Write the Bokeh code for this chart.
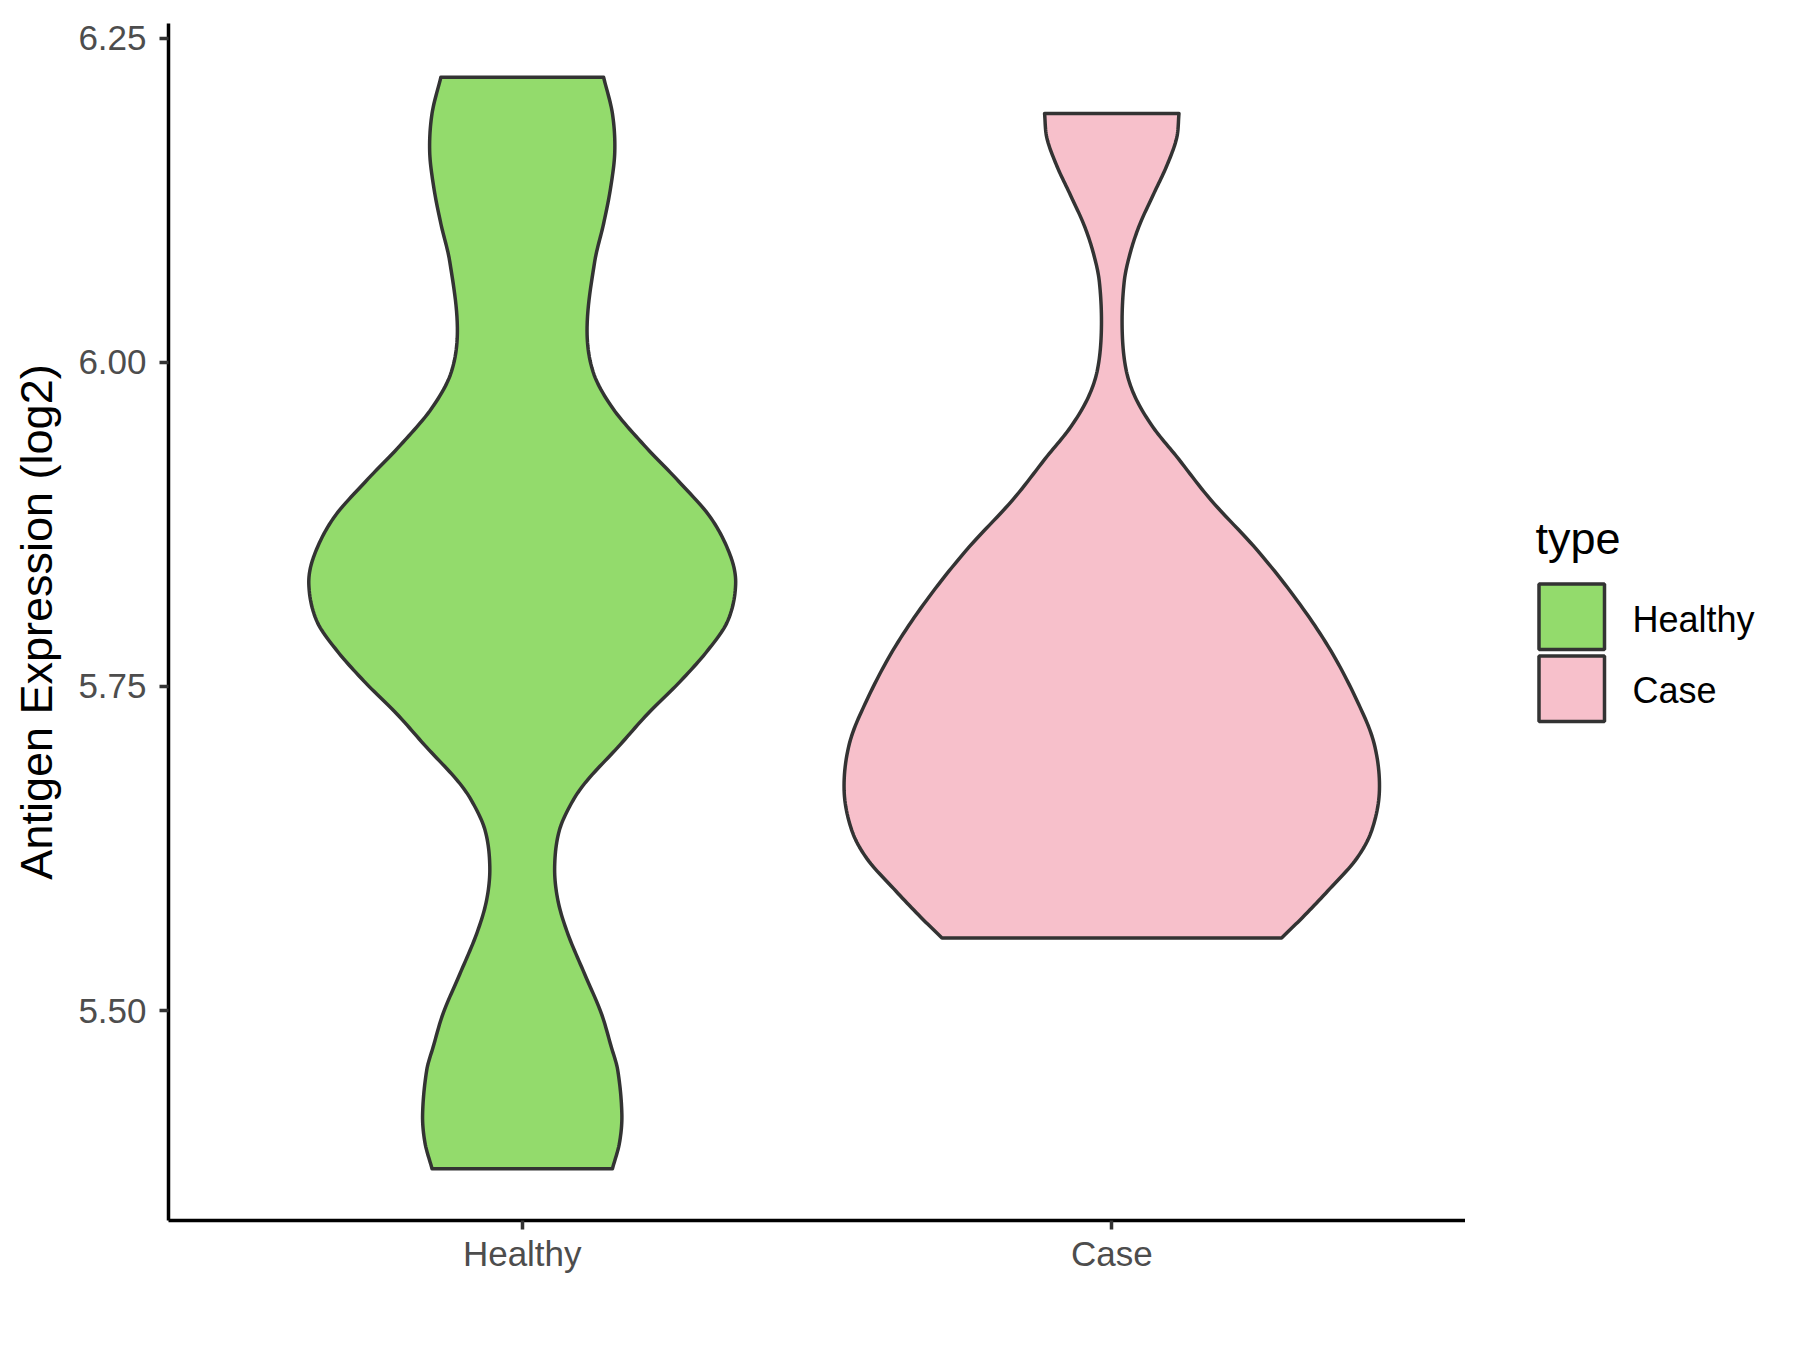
import numpy as np
from bokeh.plotting import figure
from bokeh.layouts import row
from bokeh.models import Range1d, FixedTicker
from bokeh.core.properties import value
from bokeh.embed import file_html
from bokeh.resources import INLINE

# ---- data ----
categories = ["Healthy", "Case"]
tick_values = [5.50, 5.75, 6.00, 6.25]
tick_labels = ["5.50", "5.75", "6.00", "6.25"]
legend_title = "type"

# violin profile: expression values and half-width (density scaled, in category units)
healthy_y = [5.378, 5.398, 5.420, 5.454, 5.472, 5.498, 5.528, 5.559, 5.585, 5.611,
             5.639, 5.662, 5.678, 5.703, 5.729, 5.752, 5.778, 5.801, 5.829, 5.851,
             5.880, 5.908, 5.936, 5.965, 5.993, 6.027, 6.078, 6.107, 6.135, 6.163,
             6.192, 6.220]
healthy_hw = [0.153, 0.165, 0.169, 0.162, 0.151, 0.134, 0.106, 0.0775, 0.0605, 0.055,
              0.063, 0.086, 0.111, 0.162, 0.213, 0.264, 0.315, 0.349, 0.362, 0.353,
              0.320, 0.266, 0.207, 0.153, 0.120, 0.110, 0.123, 0.138, 0.150, 0.157,
              0.153, 0.138]

case_y = [5.556, 5.572, 5.594, 5.617, 5.639, 5.670, 5.706, 5.739, 5.778, 5.816,
          5.855, 5.894, 5.928, 5.950, 5.973, 5.995, 6.026, 6.062, 6.084, 6.106,
          6.129, 6.151, 6.173, 6.192]
case_hw = [0.288, 0.324, 0.370, 0.415, 0.441, 0.454, 0.445, 0.416, 0.371, 0.315,
           0.247, 0.168, 0.109, 0.070, 0.040, 0.024, 0.0176, 0.021, 0.031, 0.047,
           0.070, 0.0926, 0.110, 0.114]

colors = ["#93DB6C", "#F7C0CB"]
outline = "#333333"
FONT = "Liberation Sans"


def smooth_profile(ys, hws, per_seg=12):
    """Cubic Hermite curve through the traced outline points (rendering only)."""
    y = np.asarray(ys, float)
    w = np.asarray(hws, float)
    n = len(y)
    m = np.zeros(n)
    for i in range(n):
        if i == 0:
            m[i] = (w[1] - w[0]) / (y[1] - y[0])
        elif i == n - 1:
            m[i] = (w[-1] - w[-2]) / (y[-1] - y[-2])
        else:
            m[i] = (w[i + 1] - w[i - 1]) / (y[i + 1] - y[i - 1])
    out_y, out_w = [], []
    for i in range(n - 1):
        h = y[i + 1] - y[i]
        for t in np.linspace(0, 1, per_seg, endpoint=False):
            h00 = 2 * t**3 - 3 * t**2 + 1
            h10 = t**3 - 2 * t**2 + t
            h01 = -2 * t**3 + 3 * t**2
            h11 = t**3 - t**2
            out_y.append(y[i] + t * h)
            out_w.append(h00 * w[i] + h10 * h * m[i] + h01 * w[i + 1] + h11 * h * m[i + 1])
    out_y.append(y[-1])
    out_w.append(w[-1])
    return np.array(out_y), np.array(out_w)


# ---------------- main panel ----------------
p = figure(frame_width=1297, frame_height=1197, output_backend="svg", toolbar_location=None,
           x_range=Range1d(0.4, 2.6), y_range=Range1d(5.338, 6.2615),
           min_border_left=168, min_border_right=0, min_border_top=23,
           min_border_bottom=122)
p.outline_line_color = None
p.xgrid.visible = False
p.ygrid.visible = False
p.background_fill_color = "white"
p.border_fill_color = "white"

for i, (ys, hws) in enumerate([(healthy_y, healthy_hw), (case_y, case_hw)]):
    c = i + 1
    sy, sw = smooth_profile(ys, hws)
    xs = list(c + sw) + list(c - sw[::-1])
    yy = list(sy) + list(sy[::-1])
    p.patch(xs, yy, fill_color=colors[i], line_color=outline, line_width=3.5,
            line_join="round")

for ax in (p.xaxis[0], p.yaxis[0]):
    ax.axis_line_color = "black"
    ax.axis_line_width = 3.5
    ax.major_tick_line_color = outline
    ax.major_tick_line_width = 3.5
    ax.major_tick_in = 0
    ax.major_tick_out = 9
    ax.minor_tick_line_color = None
    ax.major_label_text_font = FONT
    ax.major_label_text_font_size = "35px"
    ax.major_label_text_color = "#4D4D4D"

p.xaxis.ticker = FixedTicker(ticks=[1, 2])
p.xaxis.major_label_overrides = {1: categories[0], 2: categories[1]}
p.xaxis.major_label_standoff = 4

p.yaxis.ticker = FixedTicker(ticks=tick_values)
p.yaxis.major_label_overrides = {v: s for v, s in zip(tick_values, tick_labels)}
p.yaxis.major_label_standoff = 13
p.yaxis.axis_label = "Antigen Expression (log2)"
p.yaxis.axis_label_text_font = FONT
p.yaxis.axis_label_text_font_size = "45px"
p.yaxis.axis_label_text_font_style = "normal"
p.yaxis.axis_label_text_color = "black"
p.yaxis.axis_label_standoff = 13

# ---------------- legend panel (pixel layout) ----------------
LW, LH = 319, 1342
key_left, key_size = 73.5, 65.5
key_tops = [560.6, 632.4]
label_x = 167
label_baselines = [596.2, 667.4]
title_x, title_baseline = 70, 515

lg = figure(frame_width=LW, frame_height=LH, output_backend="svg", toolbar_location=None,
            x_range=Range1d(0, LW), y_range=Range1d(LH, 0),
            x_axis_location=None, y_axis_location=None, title=None,
            min_border_left=0, min_border_right=0, min_border_top=0,
            min_border_bottom=0, min_border=0)
lg.outline_line_color = None
lg.xgrid.visible = False
lg.ygrid.visible = False
lg.background_fill_color = "white"
lg.border_fill_color = "white"

lg.quad(left=[key_left] * 2, right=[key_left + key_size] * 2,
        top=key_tops, bottom=[t + key_size for t in key_tops],
        fill_color=colors, line_color=outline, line_width=3.5)
lg.text(x=[label_x] * 2, y=label_baselines, text=categories,
        text_font=value(FONT), text_font_size="36px", text_color="black",
        text_align="left", text_baseline="alphabetic")
lg.text(x=[title_x], y=[title_baseline], text=[legend_title],
        text_font=value(FONT), text_font_size="45px", text_color="black",
        text_align="left", text_baseline="alphabetic")

layout = row(p, lg)
open("out.html", "w").write(file_html(layout, INLINE))
